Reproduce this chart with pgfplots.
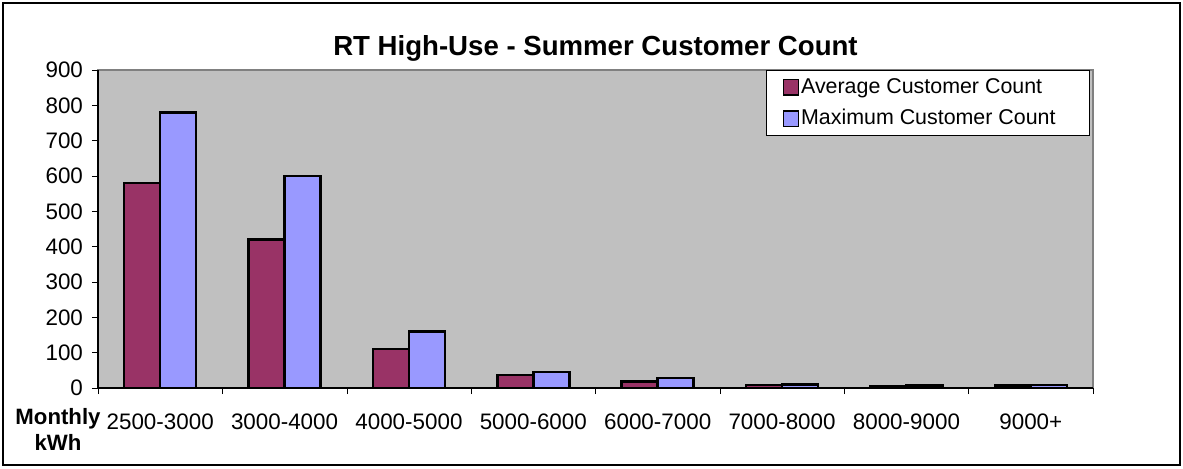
\documentclass[border=0pt]{standalone}
\usepackage{fontspec}
\setmainfont{Liberation Sans}
\usepackage{pgfplots}
\pgfplotsset{compat=1.18}
\definecolor{avgc}{HTML}{993366}
\definecolor{maxc}{HTML}{9999FF}
\definecolor{bgc}{HTML}{C0C0C0}
\begin{document}
\begin{tikzpicture}
\begin{axis}[
  scale only axis,
  width=497.5pt, height=159pt,
  anchor=south west, at={(0,0)},
  xmin=-0.5, xmax=7.5,
  ymin=0, ymax=900,
  ytick={0,100,...,900},
  xtick={0,...,7},
  xticklabels={2500-3000,3000-4000,4000-5000,5000-6000,6000-7000,7000-8000,8000-9000,9000+},
  minor xtick={-0.5,0.5,...,7.5},
  major x tick style={draw=none},
  minor x tick style={black},
  minor tick length=3pt,
  major tick length=3pt,
  tick align=outside,
  axis x line*=bottom,
  axis y line*=left,
  axis line style={black, line width=0.6pt},
  axis background/.style={fill=bgc, draw=gray, line width=0.6pt},
  ytick style={black},
  /pgf/number format/assume math mode=true,
  tick label style={font=\fontsize{11.2}{13}\selectfont},
  xticklabel style={anchor=base, yshift=-17.5pt},
  yticklabel style={xshift=-1pt},
  title={RT High-Use - Summer Customer Count},
  title style={at={(0.5,1)}, anchor=base, yshift=1.5pt, font=\bfseries\fontsize{13.8}{16}\selectfont},
  ybar=0pt,
  bar width=18pt,
  legend style={at={(rel axis cs:0.997,1)}, anchor=north east, draw=black, fill=white,
    font=\fontsize{10.7}{13}\selectfont, row sep=3.5pt, inner xsep=8pt, inner ysep=2.5pt,
    nodes={inner xsep=1pt, inner ysep=1.5pt},
    cells={anchor=west}},
  legend image code/.code={\draw[#1, draw=black, line width=0.6pt] (0pt,-3.8pt) rectangle (7.6pt,3.8pt);},
]
\addplot[fill=avgc, draw=black, line width=1.3pt] coordinates {(0,580) (1,420) (2,110) (3,37) (4,18) (5,8) (6,5) (7,7)};
\addplot[fill=maxc, draw=black, line width=1.3pt] coordinates {(0,780) (1,600) (2,160) (3,45) (4,28) (5,10) (6,7) (7,9)};
\legend{Average Customer Count\hspace*{8pt}, Maximum Customer Count\hspace*{8pt}}
\end{axis}
\node[anchor=base, font=\bfseries\fontsize{11.1}{12.5}\selectfont, inner sep=0pt] at (-20pt,-18pt) {Monthly};
\node[anchor=base, font=\bfseries\fontsize{11.1}{12.5}\selectfont, inner sep=0pt] at (-20pt,-31pt) {kWh};
\draw[black, line width=0.6pt] (-47.5pt,-38.5pt) rectangle (541pt,192.5pt);
\path (-49pt,-40pt) rectangle (542.5pt,194pt);
\end{tikzpicture}
\end{document}
